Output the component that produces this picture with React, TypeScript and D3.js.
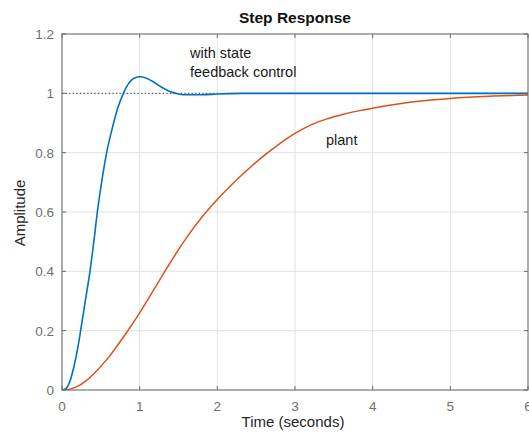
import React from "react";
import * as d3 from "d3";

const W = 529;
const H = 435;

const xTicks = [0, 1, 2, 3, 4, 5, 6];
const yTicks = [0, 0.2, 0.4, 0.6, 0.8, 1, 1.2];
const yTickLabels = ["0", "0.2", "0.4", "0.6", "0.8", "1", "1.2"];

const feedbackT = [0, 0.05, 0.1, 0.15, 0.2, 0.24, 0.3, 0.36, 0.41, 0.455, 0.51, 0.575, 0.65, 0.72, 0.79, 0.85, 0.92, 1.0, 1.08, 1.2, 1.3, 1.4, 1.5, 1.6, 1.8, 2.0, 2.3, 3, 4, 5, 6];
const feedbackV = [0, 0.005, 0.028, 0.075, 0.138, 0.2, 0.3, 0.4, 0.5, 0.6, 0.7, 0.8, 0.885, 0.952, 1.0, 1.03, 1.05, 1.056, 1.052, 1.035, 1.018, 1.005, 0.998, 0.995, 0.995, 0.998, 1.0, 1.0, 1.0, 1.0, 1.0];

const plantT = [0, 0.1, 0.2, 0.3, 0.4, 0.6, 0.8, 1.0, 1.2, 1.4, 1.6, 1.8, 2.0, 2.2, 2.4, 2.6, 2.8, 3.0, 3.2, 3.4, 3.6, 3.8, 4.0, 4.5, 5.0, 5.5, 6.0];
const plantV = [0, 0.003, 0.012, 0.029, 0.052, 0.11, 0.182, 0.26, 0.346, 0.432, 0.512, 0.582, 0.642, 0.696, 0.745, 0.79, 0.83, 0.865, 0.893, 0.913, 0.928, 0.94, 0.95, 0.971, 0.983, 0.99, 0.994];

const steadyState = 1;

const left = 62, right = 528, top = 34, bottom = 390;

export default function App() {
  const x = d3.scaleLinear().domain([0, 6]).range([left, right]);
  const y = d3.scaleLinear().domain([0, 1.2]).range([bottom, top]);
  const line = d3
    .line<[number, number]>()
    .x((d) => x(d[0]))
    .y((d) => y(d[1]))
    .curve(d3.curveMonotoneX);
  const smooth = d3
    .line<[number, number]>()
    .x((d) => x(d[0]))
    .y((d) => y(d[1]))
    .curve(d3.curveCatmullRom.alpha(0.5));
  const fb: [number, number][] = feedbackT.map((t, i) => [t, feedbackV[i]]);
  const pl: [number, number][] = plantT.map((t, i) => [t, plantV[i]]);
  const font = "'Liberation Sans', Arial, Helvetica, sans-serif";
  const axisCol = "#6b6b6b";
  const tickCol = "#6f6f6f";
  return (
    <svg width={W} height={H} style={{ position: "absolute", left: 0, top: 0, background: "#fff" }} fontFamily={font}>
      <defs>
        <clipPath id="plotclip">
          <rect x={left} y={top - 2} width={right - left} height={bottom - top + 2} />
        </clipPath>
      </defs>
      <rect x={0} y={0} width={W} height={H} fill="#fff" />
      {xTicks.map((t) => (
        <line key={"gx" + t} x1={x(t)} x2={x(t)} y1={top} y2={bottom} stroke="#e2e2e2" strokeWidth={1} />
      ))}
      {yTicks.map((t) => (
        <line key={"gy" + t} x1={left} x2={right} y1={y(t)} y2={y(t)} stroke="#e2e2e2" strokeWidth={1} />
      ))}
      <line x1={left} x2={right} y1={y(steadyState)} y2={y(steadyState)} stroke="#333" strokeWidth={1} strokeDasharray="1.2,2.4" />
      <g clipPath="url(#plotclip)">
        <path d={smooth(pl) || ""} fill="none" stroke="#D95319" strokeWidth={1.5} />
        <path d={line(fb) || ""} fill="none" stroke="#0072BD" strokeWidth={1.6} />
      </g>
      <rect x={left} y={top} width={right - left} height={bottom - top} fill="none" stroke={axisCol} strokeWidth={1} />
      {xTicks.map((t) => (
        <g key={"tx" + t}>
          <line x1={x(t)} x2={x(t)} y1={bottom} y2={bottom - 4} stroke={axisCol} />
          <line x1={x(t)} x2={x(t)} y1={top} y2={top + 4} stroke={axisCol} />
          <text x={x(t)} y={411} textAnchor="middle" fontSize={13.5} fill={tickCol}>
            {t}
          </text>
        </g>
      ))}
      {yTicks.map((t, i) => (
        <g key={"ty" + t}>
          <line x1={left} x2={left + 4} y1={y(t)} y2={y(t)} stroke={axisCol} />
          <line x1={right} x2={right - 4} y1={y(t)} y2={y(t)} stroke={axisCol} />
          <text x={54} y={y(t) + 5} textAnchor="end" fontSize={13.5} fill={tickCol}>
            {yTickLabels[i]}
          </text>
        </g>
      ))}
      <text x={(left + right) / 2} y={23} textAnchor="middle" fontSize={15.5} fontWeight="bold" fill="#111">
        Step Response
      </text>
      <text x={(left + right) / 2 - 2} y={427} textAnchor="middle" fontSize={15} fill="#262626">
        Time (seconds)
      </text>
      <text transform={`translate(25,${(top + bottom) / 2 + 1}) rotate(-90)`} textAnchor="middle" fontSize={15} fill="#262626">
        Amplitude
      </text>
      <text x={190} y={58} fontSize={14.5} fill="#1a1a1a">with state</text>
      <text x={190} y={77} fontSize={14.5} fill="#1a1a1a">feedback control</text>
      <text x={326} y={145} fontSize={14.5} fill="#1a1a1a">plant</text>
    </svg>
  );
}
